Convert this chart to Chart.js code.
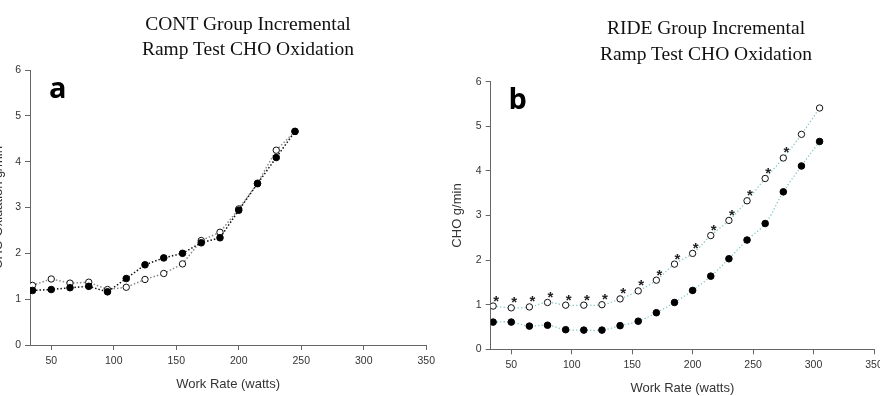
<!DOCTYPE html>
<html>
<head>
<meta charset="utf-8">
<script src="https://cdn.jsdelivr.net/npm/chart.js@4.4.1/dist/chart.umd.min.js"></script>
<style>
  html, body { margin: 0; padding: 0; background: #fff; overflow: hidden; }
  #wrap { position: relative; width: 880px; height: 396px; overflow: hidden; }
  .box { position: absolute; top: 0; height: 396px; }
  #boxA { left: -10px; width: 450px; }
  #boxB { left: 440px; width: 460px; }
  .ttl { position: absolute; width: 300px; text-align: center; white-space: nowrap;
         font-family: "Liberation Serif", "Times New Roman", serif; font-size: 19.5px; color: #111; }
  .tag { position: absolute; font-family: "Open Sans", sans-serif; font-weight: 700;
         font-size: 29px; line-height: 1; color: #000; }
</style>
</head>
<body>
<div id="wrap">
  <div class="box" id="boxA"><canvas id="chartA" width="450" height="396"></canvas></div>
  <div class="box" id="boxB"><canvas id="chartB" width="460" height="396"></canvas></div>
  <div class="ttl" style="left:98px; top:11.4px; line-height:25px;">CONT Group Incremental<br>Ramp Test CHO Oxidation</div>
  <div class="ttl" style="left:556px; top:14.7px; line-height:26.5px;">RIDE Group Incremental<br>Ramp Test CHO Oxidation</div>
  <div class="tag" style="left:49px; top:72px;">a</div>
  <div class="tag" style="left:508.6px; top:83.3px;">b</div>
</div>
<script>
// work rate stages (watts)
const watts = [35, 50, 65, 80, 95, 110, 125, 140, 155, 170, 185, 200, 215, 230, 245, 260, 275, 290, 305];

// panel a - CONT group (stops at 245 W)
const contOpen   = [1.30, 1.44, 1.35, 1.37, 1.21, 1.26, 1.43, 1.56, 1.77, 2.28, 2.46, 2.97, 3.53, 4.25, 4.66];
const contFilled = [1.19, 1.21, 1.25, 1.28, 1.16, 1.45, 1.75, 1.90, 2.00, 2.23, 2.34, 2.94, 3.52, 4.09, 4.66];

// panel b - RIDE group
const rideOpen   = [0.97, 0.93, 0.95, 1.05, 0.99, 0.99, 1.00, 1.13, 1.31, 1.55, 1.91, 2.15, 2.55, 2.89, 3.33, 3.83, 4.29, 4.82, 5.41];
const rideFilled = [0.61, 0.61, 0.52, 0.54, 0.44, 0.43, 0.43, 0.53, 0.63, 0.82, 1.05, 1.32, 1.64, 2.03, 2.45, 2.82, 3.53, 4.11, 4.66];
// significance markers (*) on the open series
const rideSig    = [1, 1, 1, 1, 1, 1, 1, 1, 1, 1, 1, 1, 1, 1, 1, 1, 1, 0, 0];

const xMin = 33, xMax = 350, xStep = 50;
const yMin = 0, yMax = 6, yStep = 1;

const FONT = '"Liberation Sans", Arial, sans-serif';

function pts(ys) {
    return ys.map((y, i) => ({ x: watts[i], y: y }));
}

// draws "*" just above-right of flagged points
const starPlugin = {
    id: 'stars',
    afterDatasetsDraw(chart, args, opts) {
        if (!opts || !opts.flags) return;
        const meta = chart.getDatasetMeta(opts.datasetIndex);
        const ctx = chart.ctx;
        ctx.save();
        ctx.font = 'bold 15px ' + FONT;
        ctx.fillStyle = '#222';
        ctx.textAlign = 'center';
        ctx.textBaseline = 'alphabetic';
        meta.data.forEach((pt, i) => {
            if (opts.flags[i]) ctx.fillText('*', pt.x + 3, pt.y - 0.5);
        });
        ctx.restore();
    }
};

function makeChart(id, cfg) {
    new Chart(document.getElementById(id), {
        type: 'line',
        data: { datasets: cfg.datasets },
        plugins: [starPlugin],
        options: {
            responsive: false,
            animation: false,
            events: [],
            layout: { padding: { top: cfg.top, right: cfg.right, left: 0, bottom: 0 } },
            plugins: {
                legend: { display: false },
                tooltip: { enabled: false },
                stars: cfg.stars || {}
            },
            scales: {
                x: {
                    type: 'linear',
                    min: xMin,
                    max: xMax,
                    afterFit: (s) => { s.height = cfg.xH; },
                    border: { color: '#666', width: 1 },
                    grid: { drawOnChartArea: false, drawTicks: true, tickLength: 5, color: '#666' },
                    ticks: { stepSize: xStep, includeBounds: false, padding: 5, color: '#333', font: { family: FONT, size: 10.5 } },
                    title: { display: true, text: 'Work Rate (watts)', color: '#333',
                             font: { family: FONT, size: 13 }, padding: { top: 0, bottom: cfg.xTitlePad } }
                },
                y: {
                    min: yMin,
                    max: yMax,
                    afterFit: (s) => { s.width = cfg.yW; },
                    border: { color: '#666', width: 1 },
                    grid: { drawOnChartArea: false, drawTicks: true, tickLength: 5, color: '#666' },
                    ticks: { stepSize: yStep, padding: 4, color: '#333', font: { family: FONT, size: 10.5 } },
                    title: { display: true, text: cfg.yTitle, color: '#333',
                             font: { family: FONT, size: 13 }, padding: { top: cfg.yTitlePad, bottom: 0 } }
                }
            }
        }
    });
}

const filledPt = { pointRadius: 3.3, pointBackgroundColor: '#000', pointBorderColor: '#000', pointBorderWidth: 1 };
const openPt   = { pointRadius: 3.2, pointBackgroundColor: '#fff', pointBorderColor: '#111', pointBorderWidth: 1 };

makeChart('chartA', {
    top: 70, right: 13, xH: 51, yW: 40, xTitlePad: 4, yTitlePad: 1,
    yTitle: 'CHO Oxidation g/min',
    datasets: [
        Object.assign({ data: pts(contFilled), order: 1, borderColor: '#111', borderWidth: 1.5,
                        borderDash: [1.5, 2], tension: 0, fill: false }, filledPt),
        Object.assign({ data: pts(contOpen), order: 2, borderColor: '#8a8a8a', borderWidth: 1.5,
                        borderDash: [1.5, 2], tension: 0, fill: false }, openPt)
    ]
});

makeChart('chartB', {
    top: 81.7, right: 26, xH: 46.7, yW: 50.7, xTitlePad: 0, yTitlePad: 10,
    yTitle: 'CHO g/min',
    stars: { datasetIndex: 1, flags: rideSig },
    datasets: [
        Object.assign({ data: pts(rideFilled), order: 1, borderColor: '#86c5c8', borderWidth: 1.3,
                        borderDash: [1.3, 2.2], tension: 0.4, fill: false }, filledPt),
        Object.assign({ data: pts(rideOpen), order: 2, borderColor: '#86c5c8', borderWidth: 1.3,
                        borderDash: [1.3, 2.2], tension: 0.4, fill: false }, openPt)
    ]
});
</script>
</body>
</html>
